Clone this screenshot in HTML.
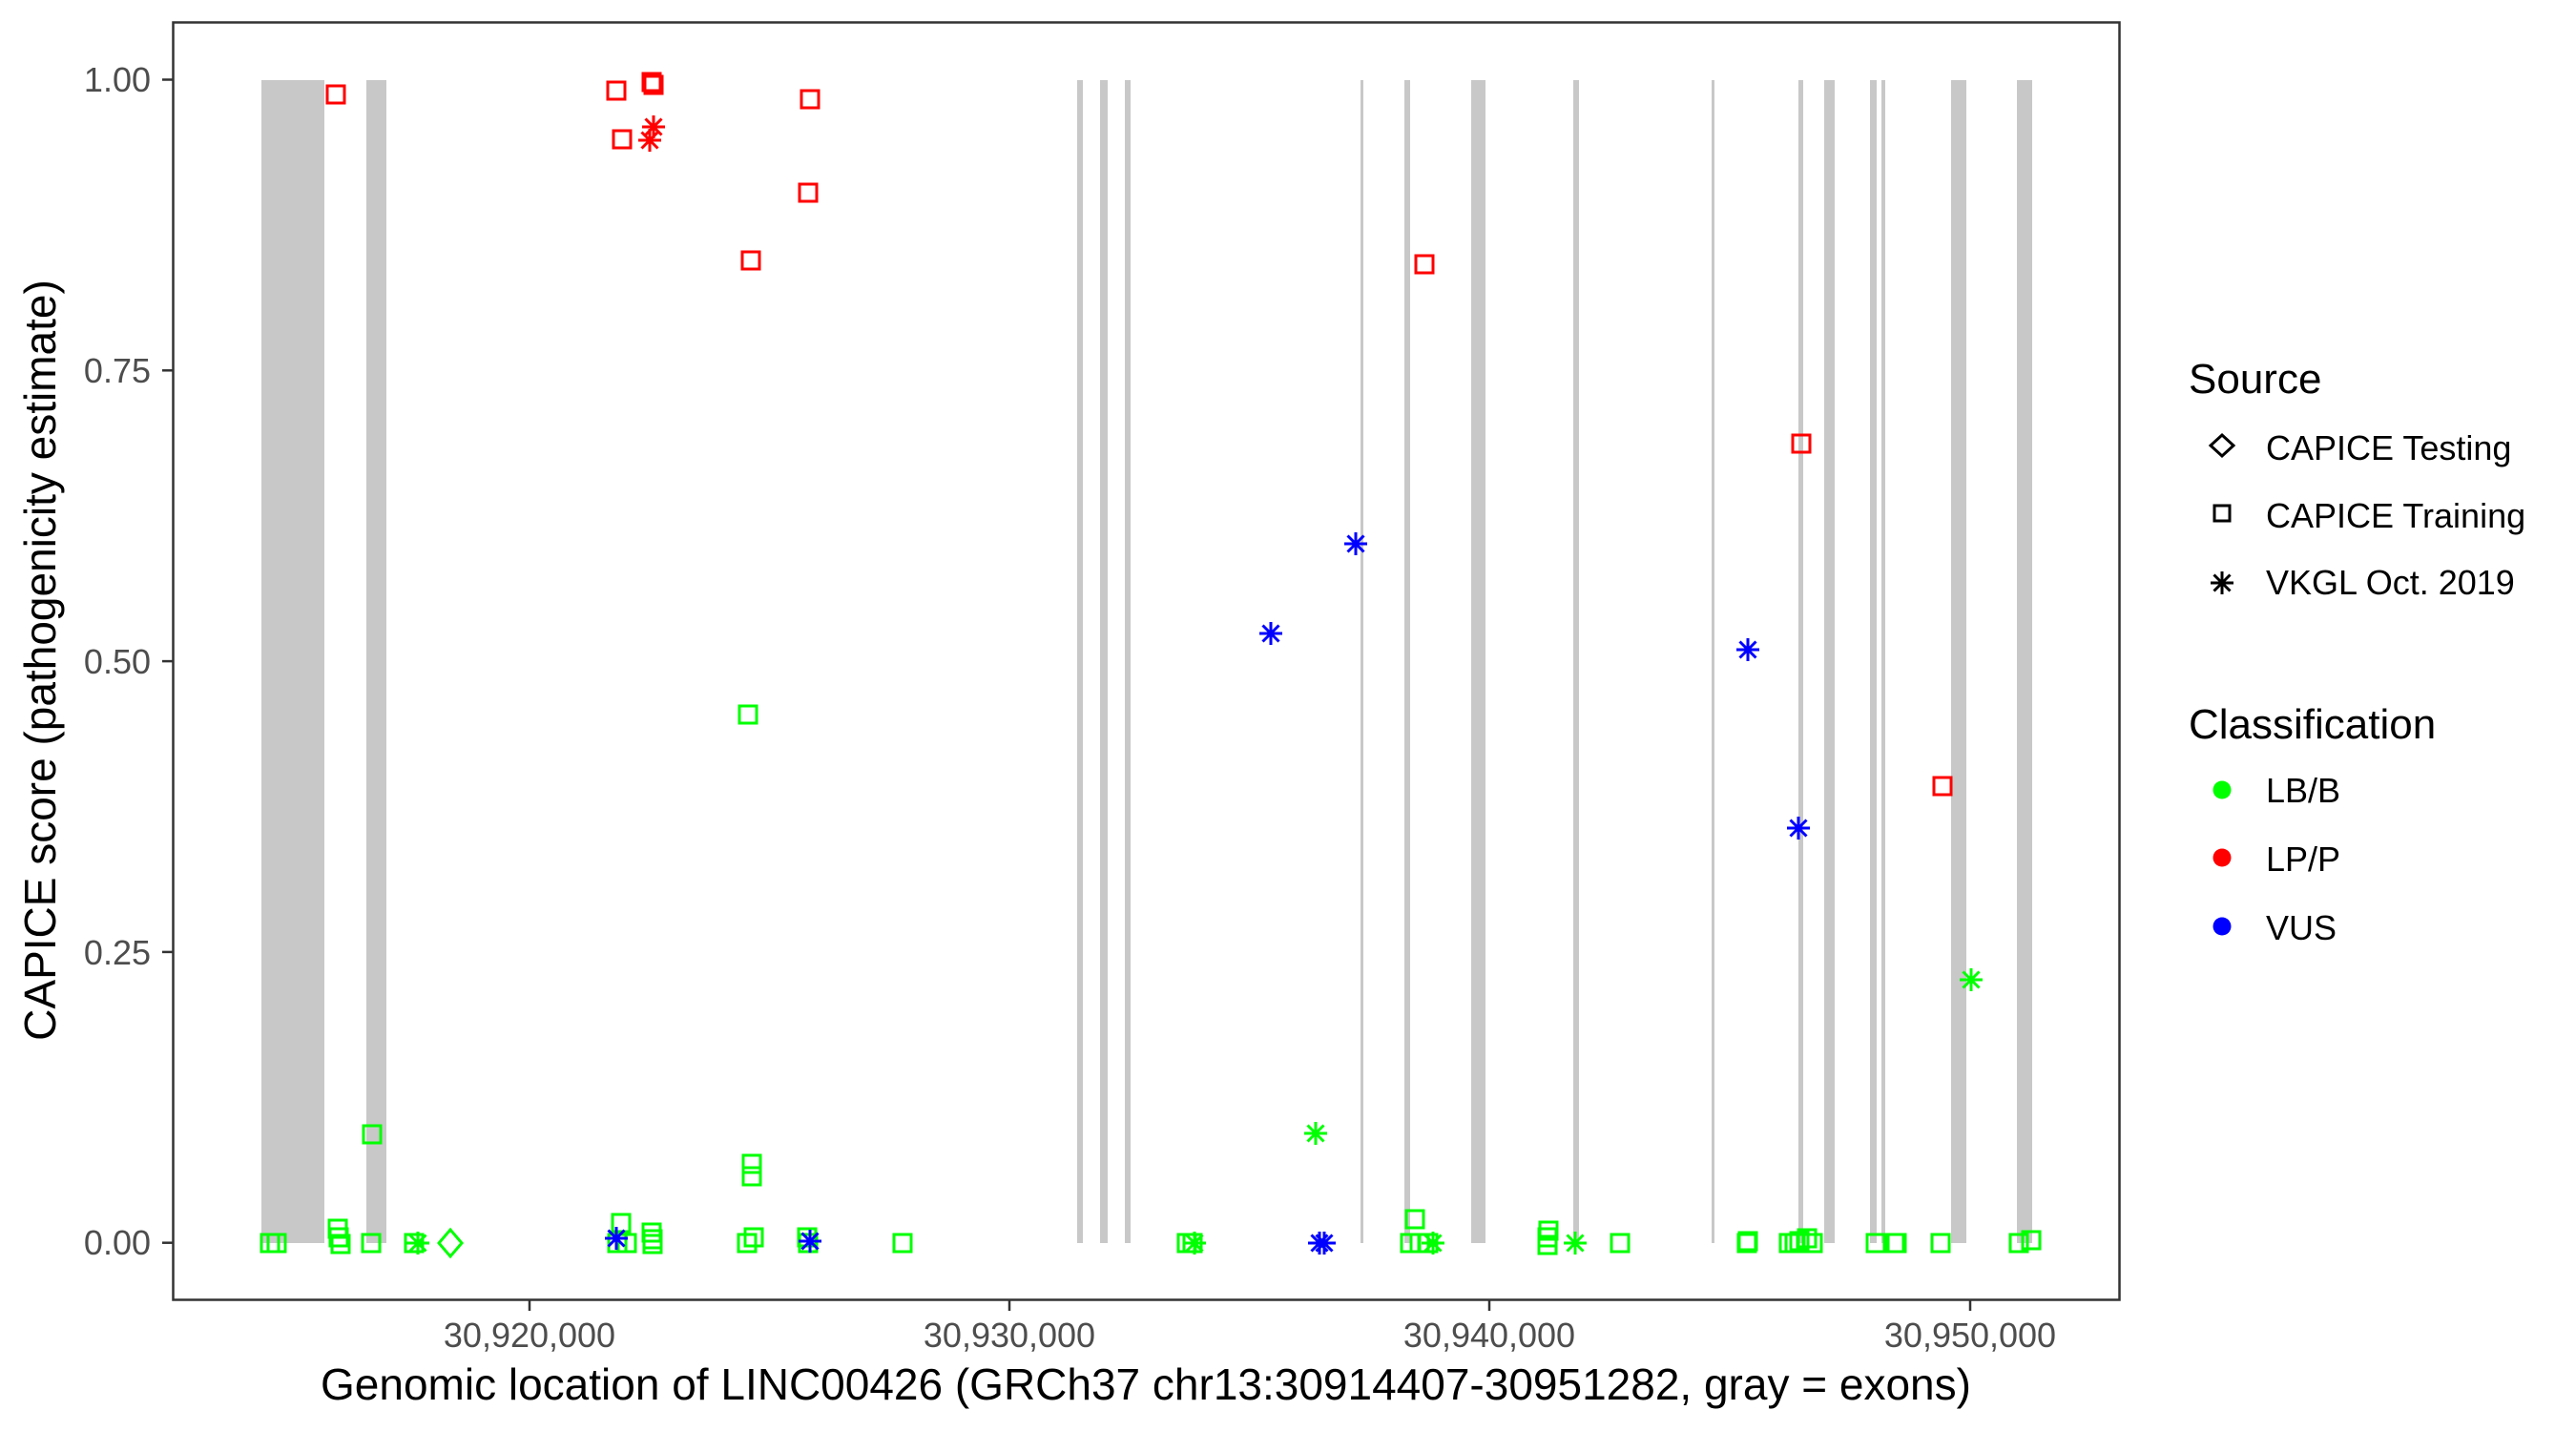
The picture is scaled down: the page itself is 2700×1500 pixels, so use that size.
<!DOCTYPE html>
<html><head><meta charset="utf-8"><style>html,body{margin:0;padding:0;background:#fff}svg{display:block}</style></head>
<body>
<svg width="2700" height="1500" viewBox="0 0 2700 1500" xmlns="http://www.w3.org/2000/svg" font-family="Liberation Sans, sans-serif">
<defs>
<rect id="sq" x="-9" y="-9" width="18" height="18" fill="none" stroke-width="3"/>
<g id="ast" stroke-width="3"><line x1="-12" y1="0" x2="12" y2="0"/><line x1="0" y1="-12" x2="0" y2="12"/><line x1="-8.5" y1="-8.5" x2="8.5" y2="8.5"/><line x1="-8.5" y1="8.5" x2="8.5" y2="-8.5"/></g>
<path id="dm" d="M0,-14 L12,0 L0,14 L-12,0 Z" fill="none" stroke-width="3"/>
</defs>
<rect width="2700" height="1500" fill="#fff"/>
<g fill="#c8c8c8">
<rect x="274" y="84" width="66" height="1219"/>
<rect x="384" y="84" width="21" height="1219"/>
<rect x="1129" y="84" width="6" height="1219"/>
<rect x="1153" y="84" width="8" height="1219"/>
<rect x="1179" y="84" width="6" height="1219"/>
<rect x="1426" y="84" width="3" height="1219"/>
<rect x="1472" y="84" width="6" height="1219"/>
<rect x="1542" y="84" width="15" height="1219"/>
<rect x="1649" y="84" width="6" height="1219"/>
<rect x="1794" y="84" width="3" height="1219"/>
<rect x="1885" y="84" width="5" height="1219"/>
<rect x="1912" y="84" width="11" height="1219"/>
<rect x="1960" y="84" width="7" height="1219"/>
<rect x="1972" y="84" width="4" height="1219"/>
<rect x="2045" y="84" width="16" height="1219"/>
<rect x="2114" y="84" width="16" height="1219"/>
</g>
<g stroke="#ff0000" fill="#ff0000">
<use href="#sq" x="352" y="99"/><use href="#sq" x="646" y="95"/><use href="#sq" x="683" y="86"/><use href="#sq" x="685" y="89"/>
<use href="#sq" x="652" y="146"/><use href="#ast" x="685" y="133"/><use href="#ast" x="681" y="147"/>
<use href="#sq" x="849" y="104"/><use href="#sq" x="847" y="202"/><use href="#sq" x="787" y="273"/>
<use href="#sq" x="1493" y="277"/><use href="#sq" x="1888" y="465"/><use href="#sq" x="2036" y="824"/>
</g>
<g stroke="#00ff00" fill="#00ff00">
<use href="#sq" x="784" y="749"/><use href="#sq" x="390" y="1189"/><use href="#ast" x="1379" y="1188"/><use href="#ast" x="2066" y="1027"/>
<use href="#sq" x="283" y="1303"/><use href="#sq" x="290" y="1303"/>
<use href="#sq" x="354" y="1288"/><use href="#sq" x="355" y="1297"/><use href="#sq" x="357" y="1304"/>
<use href="#sq" x="389" y="1303"/><use href="#sq" x="434" y="1303"/><use href="#ast" x="438" y="1303"/><use href="#dm" x="472" y="1303"/>
<use href="#sq" x="651" y="1282"/><use href="#sq" x="647" y="1303"/><use href="#sq" x="657" y="1303"/>
<use href="#sq" x="683" y="1292"/><use href="#sq" x="684" y="1299"/><use href="#sq" x="684" y="1304"/>
<use href="#sq" x="788" y="1220"/><use href="#sq" x="788" y="1233"/><use href="#sq" x="790" y="1297"/><use href="#sq" x="783" y="1303"/>
<use href="#sq" x="846" y="1297"/><use href="#sq" x="847" y="1303"/><use href="#sq" x="946" y="1303"/>
<use href="#sq" x="1244" y="1303"/><use href="#sq" x="1250" y="1303"/><use href="#ast" x="1252" y="1303"/>
<use href="#sq" x="1483" y="1278"/><use href="#sq" x="1478" y="1303"/><use href="#sq" x="1488" y="1303"/><use href="#sq" x="1497" y="1303"/><use href="#ast" x="1502" y="1303"/>
<use href="#sq" x="1623" y="1290"/><use href="#sq" x="1622" y="1297"/><use href="#sq" x="1622" y="1305"/><use href="#ast" x="1651" y="1303"/>
<use href="#sq" x="1698" y="1303"/><use href="#sq" x="1831" y="1303"/><use href="#sq" x="1832" y="1301"/>
<use href="#sq" x="1875" y="1303"/><use href="#sq" x="1881" y="1303"/><use href="#sq" x="1886" y="1301"/><use href="#sq" x="1894" y="1298"/><use href="#sq" x="1900" y="1303"/>
<use href="#sq" x="1966" y="1303"/><use href="#sq" x="1986" y="1303"/><use href="#sq" x="1988" y="1303"/>
<use href="#sq" x="2034" y="1303"/><use href="#sq" x="2116" y="1303"/><use href="#sq" x="2129" y="1300"/>
</g>
<g stroke="#0000ff" fill="#0000ff">
<use href="#ast" x="1421" y="570"/><use href="#ast" x="1332" y="664"/><use href="#ast" x="1832" y="681"/><use href="#ast" x="1885" y="868"/>
<use href="#ast" x="646" y="1298"/><use href="#ast" x="849" y="1301"/><use href="#ast" x="1383" y="1303"/><use href="#ast" x="1388" y="1303"/>
</g>
<rect x="181.5" y="23.5" width="2040" height="1339" fill="none" stroke="#333" stroke-width="2.5"/>
<g stroke="#333" stroke-width="2.5">
<line x1="170" y1="83.5" x2="181" y2="83.5"/><line x1="170" y1="388.3" x2="181" y2="388.3"/><line x1="170" y1="693.1" x2="181" y2="693.1"/><line x1="170" y1="997.9" x2="181" y2="997.9"/><line x1="170" y1="1302.7" x2="181" y2="1302.7"/>
<line x1="555" y1="1363" x2="555" y2="1374"/><line x1="1058" y1="1363" x2="1058" y2="1374"/><line x1="1561" y1="1363" x2="1561" y2="1374"/><line x1="2065" y1="1363" x2="2065" y2="1374"/>
</g>
<g font-size="36" fill="#4d4d4d" text-anchor="end">
<text x="158" y="96">1.00</text><text x="158" y="401">0.75</text><text x="158" y="706">0.50</text><text x="158" y="1011">0.25</text><text x="158" y="1315">0.00</text>
</g>
<g font-size="36" fill="#4d4d4d" text-anchor="middle">
<text x="555" y="1412">30,920,000</text><text x="1058" y="1412">30,930,000</text><text x="1561" y="1412">30,940,000</text><text x="2065" y="1412">30,950,000</text>
</g>
<text x="1201" y="1467" font-size="46" text-anchor="middle" fill="#000">Genomic location of LINC00426 (GRCh37 chr13:30914407-30951282, gray = exons)</text>
<text transform="translate(58,692) rotate(-90)" font-size="46" text-anchor="middle" fill="#000">CAPICE score (pathogenicity estimate)</text>
<text x="2294" y="412" font-size="44" fill="#000">Source</text>
<g stroke="#000" fill="#000">
<path d="M2329,456 L2341,467 L2329,478 L2317,467 Z" fill="none" stroke-width="3"/>
<rect x="2321" y="530" width="16" height="16" fill="none" stroke-width="3"/>
<use href="#ast" x="2329" y="611"/>
</g>
<g font-size="36" fill="#000">
<text x="2375" y="482">CAPICE Testing</text><text x="2375" y="553">CAPICE Training</text><text x="2375" y="623">VKGL Oct. 2019</text>
</g>
<text x="2294" y="774" font-size="44" fill="#000">Classification</text>
<circle cx="2329" cy="828" r="9.5" fill="#00ff00"/><circle cx="2329" cy="899" r="9.5" fill="#ff0000"/><circle cx="2329" cy="971" r="9.5" fill="#0000ff"/>
<g font-size="36" fill="#000">
<text x="2375" y="841">LB/B</text><text x="2375" y="913">LP/P</text><text x="2375" y="985">VUS</text>
</g>
</svg>
</body></html>
